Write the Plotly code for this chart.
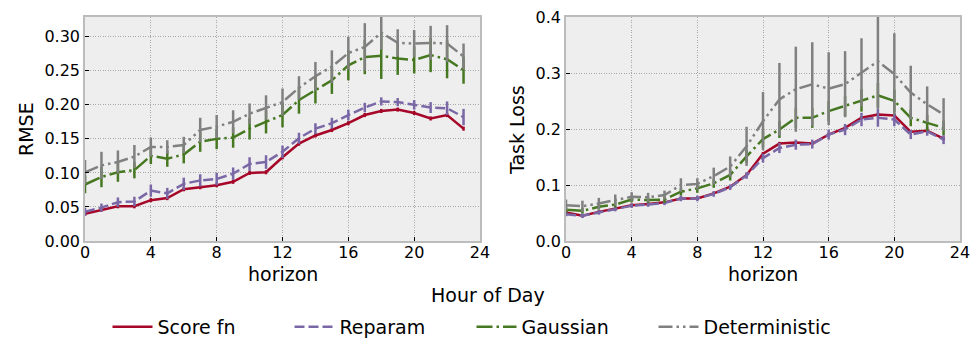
import plotly.graph_objects as go

hours = list(range(24))

# RMSE (left panel)
rmse_score = [0.040, 0.046, 0.051, 0.051, 0.060, 0.063, 0.076, 0.079, 0.082, 0.087, 0.100, 0.101,
              0.123, 0.143, 0.155, 0.163, 0.173, 0.185, 0.191, 0.193, 0.188, 0.180, 0.185, 0.165]
rmse_score_err = [0.003] * 24
rmse_reparam = [0.043, 0.049, 0.057, 0.058, 0.074, 0.070, 0.084, 0.089, 0.091, 0.099, 0.113, 0.116,
                0.131, 0.151, 0.165, 0.173, 0.185, 0.196, 0.205, 0.204, 0.200, 0.196, 0.195, 0.182]
rmse_reparam_err = [0.006, 0.006, 0.007, 0.007, 0.009, 0.008, 0.009, 0.009, 0.009, 0.009, 0.010, 0.010,
                    0.009, 0.008, 0.008, 0.008, 0.008, 0.007, 0.006, 0.006, 0.007, 0.008, 0.010, 0.012]
rmse_gauss = [0.083, 0.094, 0.101, 0.104, 0.125, 0.121, 0.127, 0.146, 0.150, 0.152, 0.165, 0.175,
              0.185, 0.207, 0.222, 0.236, 0.258, 0.270, 0.272, 0.268, 0.266, 0.273, 0.267, 0.251]
rmse_gauss_err = [0.013, 0.015, 0.014, 0.012, 0.012, 0.012, 0.013, 0.015, 0.015, 0.015, 0.016, 0.017,
                  0.018, 0.020, 0.020, 0.020, 0.022, 0.025, 0.034, 0.024, 0.020, 0.025, 0.028, 0.020]
rmse_det = [0.101, 0.111, 0.116, 0.124, 0.138, 0.138, 0.141, 0.163, 0.168, 0.175, 0.187, 0.196,
            0.204, 0.225, 0.242, 0.256, 0.276, 0.285, 0.306, 0.291, 0.290, 0.291, 0.290, 0.271]
rmse_det_err = [0.018, 0.020, 0.017, 0.017, 0.014, 0.010, 0.012, 0.018, 0.017, 0.017, 0.015, 0.018,
                0.020, 0.017, 0.021, 0.024, 0.024, 0.035, 0.025, 0.020, 0.020, 0.025, 0.027, 0.019]

# Task loss (right panel)
task_score = [0.051, 0.045, 0.052, 0.058, 0.064, 0.066, 0.069, 0.076, 0.076, 0.085, 0.097, 0.118,
              0.156, 0.174, 0.176, 0.174, 0.190, 0.202, 0.220, 0.226, 0.224, 0.195, 0.197, 0.183]
task_score_err = [0.003] * 24
task_reparam = [0.048, 0.045, 0.051, 0.057, 0.063, 0.065, 0.068, 0.076, 0.076, 0.084, 0.096, 0.117,
                0.148, 0.166, 0.172, 0.173, 0.190, 0.199, 0.217, 0.220, 0.217, 0.190, 0.196, 0.181]
task_reparam_err = [0.004, 0.004, 0.004, 0.004, 0.004, 0.004, 0.004, 0.005, 0.005, 0.005, 0.005, 0.006,
                    0.008, 0.009, 0.009, 0.008, 0.009, 0.010, 0.012, 0.016, 0.012, 0.008, 0.008, 0.008]
task_gauss = [0.056, 0.054, 0.061, 0.065, 0.074, 0.073, 0.074, 0.088, 0.094, 0.103, 0.118, 0.151,
              0.182, 0.199, 0.220, 0.220, 0.232, 0.241, 0.251, 0.260, 0.250, 0.220, 0.211, 0.202]
task_gauss_err = [0.005, 0.005, 0.005, 0.005, 0.005, 0.005, 0.006, 0.007, 0.008, 0.008, 0.010, 0.012,
                  0.015, 0.015, 0.018, 0.018, 0.018, 0.018, 0.020, 0.022, 0.020, 0.015, 0.014, 0.013]
task_det = [0.064, 0.062, 0.067, 0.073, 0.079, 0.078, 0.082, 0.100, 0.102, 0.116, 0.133, 0.169,
            0.214, 0.253, 0.271, 0.280, 0.272, 0.280, 0.301, 0.321, 0.298, 0.265, 0.244, 0.226]
task_det_err = [0.010, 0.010, 0.010, 0.010, 0.008, 0.008, 0.008, 0.012, 0.010, 0.015, 0.018, 0.035,
                0.052, 0.065, 0.076, 0.075, 0.065, 0.059, 0.061, 0.085, 0.073, 0.048, 0.032, 0.029]

names = ["Score fn", "Reparam", "Gaussian", "Deterministic"]
colors = ["#A60628", "#7A68A6", "#467821", "#808080"]
dashes = ["solid", "10px,4px", "16px,4px,2.5px,4px", "14px,4px,2.5px,4px,2.5px,4px"]

left = [(rmse_score, rmse_score_err), (rmse_reparam, rmse_reparam_err),
        (rmse_gauss, rmse_gauss_err), (rmse_det, rmse_det_err)]
right = [(task_score, task_score_err), (task_reparam, task_reparam_err),
         (task_gauss, task_gauss_err), (task_det, task_det_err)]

fig = go.Figure()
for i in range(4):
    for panel, (vals, errs) in enumerate([left[i], right[i]]):
        fig.add_trace(go.Scatter(
            x=hours, y=vals, mode="lines", name=names[i],
            line=dict(color=colors[i], width=2.5, dash=dashes[i]),
            error_y=dict(type="data", array=errs, visible=True, color=colors[i],
                         thickness=2.5, width=0),
            xaxis="x" if panel == 0 else "x2",
            yaxis="y" if panel == 0 else "y2",
            showlegend=(panel == 0), legendgroup=names[i],
        ))

font = "DejaVu Sans"
axis_common = dict(
    showline=True, mirror=True, linecolor="#bcbcbc", linewidth=1.5,
    showgrid=True, gridcolor="#a8a8a8", griddash="1px,1.5px", gridwidth=1,
    ticks="inside", ticklen=4, tickcolor="#000000", tickwidth=1.2,
    tickfont=dict(family=font, size=16, color="#000000"),
    zeroline=False, automargin=False,
)

fig.update_layout(
    width=977, height=345,
    margin=dict(l=0, r=0, t=0, b=0, autoexpand=False),
    paper_bgcolor="white", plot_bgcolor="#eeeeee",
    font=dict(family=font, color="#000000"),
    xaxis=dict(domain=[85 / 977, 480 / 977], range=[0, 24], tickvals=[0, 4, 8, 12, 16, 20, 24],
               anchor="y", ticklabelstandoff=-4, **axis_common),
    yaxis=dict(domain=[1 - 241 / 345, 1 - 17 / 345], range=[0, 0.329],
               tickvals=[0, 0.05, 0.10, 0.15, 0.20, 0.25, 0.30], tickformat=".2f",
               anchor="x", **axis_common),
    xaxis2=dict(domain=[566 / 977, 960 / 977], range=[0, 24], tickvals=[0, 4, 8, 12, 16, 20, 24],
                anchor="y2", ticklabelstandoff=-4, **axis_common),
    yaxis2=dict(domain=[1 - 241 / 345, 1 - 17 / 345], range=[0, 0.4],
                tickvals=[0, 0.1, 0.2, 0.3, 0.4], tickformat=".1f",
                anchor="x2", **axis_common),
    legend=dict(orientation="h", x=0.5 - 17 / 977, xanchor="center", y=1 - 327 / 345, yanchor="middle",
                font=dict(family=font, size=19, color="#000000"),
                bgcolor="rgba(0,0,0,0)", itemwidth=40, entrywidth=127, traceorder="normal"),
    showlegend=True,
)

ann = dict(xref="paper", yref="paper", showarrow=False,
           font=dict(family=font, size=19, color="#000000"))
fig.add_annotation(text="horizon", x=282.5 / 977, y=1 - 274 / 345, xanchor="center", yanchor="middle", **ann)
fig.add_annotation(text="horizon", x=763 / 977, y=1 - 274 / 345, xanchor="center", yanchor="middle", **ann)
fig.add_annotation(text="Hour of Day", x=488 / 977, y=1 - 295 / 345, xanchor="center", yanchor="middle", **ann)
fig.add_annotation(text="RMSE", x=26 / 977, y=1 - 129 / 345, xanchor="center", yanchor="middle",
                   textangle=-90, **ann)
fig.add_annotation(text="Task Loss", x=517 / 977, y=1 - 130 / 345, xanchor="center", yanchor="middle",
                   textangle=-90, **ann)

fig.write_html("out.html", config={"displayModeBar": False},
               post_script="document.body.style.margin='0';")
